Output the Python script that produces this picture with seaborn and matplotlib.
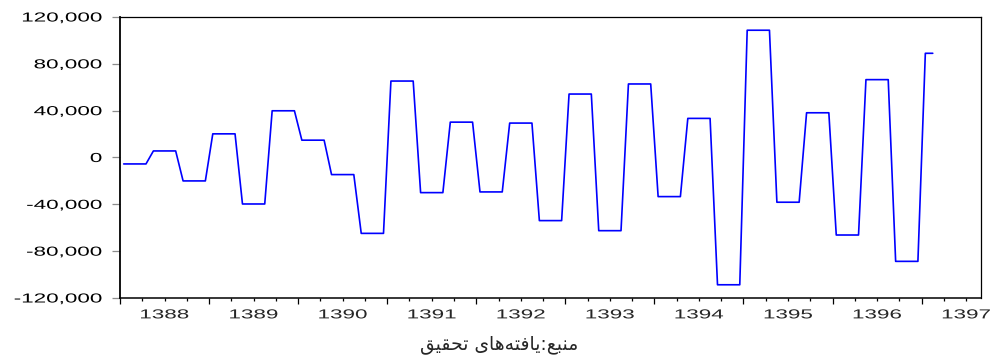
import numpy as np
import pandas as pd
import matplotlib
matplotlib.use("Agg")
import matplotlib.pyplot as plt
import seaborn as sns
from matplotlib.patheffects import AbstractPathEffect
from matplotlib.transforms import Affine2D

# Monthly series (1388M01 onward); each value is held for four months
monthly_values = [
    -5500, -5500, -5500, -5500,
    5600, 5600, 5600, 5600,
    -20000, -20000, -20000, -20000,
    20200, 20200, 20200, 20200,
    -39700, -39700, -39700, -39700,
    39900, 39900, 39900, 39900,
    14800, 14800, 14800, 14800,
    -14600, -14600, -14600, -14600,
    -64800, -64800, -64800, -64800,
    65300, 65300, 65300, 65300,
    -30000, -30000, -30000, -30000,
    30200, 30200, 30200, 30200,
    -29400, -29400, -29400, -29400,
    29400, 29400, 29400, 29400,
    -53900, -53900, -53900, -53900,
    54200, 54200, 54200, 54200,
    -62500, -62500, -62500, -62500,
    62800, 62800, 62800, 62800,
    -33400, -33400, -33400, -33400,
    33400, 33400, 33400, 33400,
    -108700, -108700, -108700, -108700,
    108700, 108700, 108700, 108700,
    -38200, -38200, -38200, -38200,
    38200, 38200, 38200, 38200,
    -66200, -66200, -66200, -66200,
    66500, 66500, 66500, 66500,
    -88700, -88700, -88700, -88700,
    89000, 89000,
]
years = [1388, 1389, 1390, 1391, 1392, 1393, 1394, 1395, 1396, 1397]
y_ticks = [-120000, -80000, -40000, 0, 40000, 80000, 120000]
source_label = "منبع:یافته‌های تحقیق"

# Minimal Persian shaping: contextual forms + right-to-left visual order
ARABIC_FORMS = {  # isolated, final, initial, medial
    "ا": ("\uFE8D", "\uFE8E", None, None),
    "ب": ("\uFE8F", "\uFE90", "\uFE91", "\uFE92"),
    "ت": ("\uFE95", "\uFE96", "\uFE97", "\uFE98"),
    "ح": ("\uFEA1", "\uFEA2", "\uFEA3", "\uFEA4"),
    "ع": ("\uFEC9", "\uFECA", "\uFECB", "\uFECC"),
    "ف": ("\uFED1", "\uFED2", "\uFED3", "\uFED4"),
    "ق": ("\uFED5", "\uFED6", "\uFED7", "\uFED8"),
    "م": ("\uFEE1", "\uFEE2", "\uFEE3", "\uFEE4"),
    "ن": ("\uFEE5", "\uFEE6", "\uFEE7", "\uFEE8"),
    "ه": ("\uFEE9", "\uFEEA", "\uFEEB", "\uFEEC"),
    "ی": ("\uFBFC", "\uFBFD", "\uFBFE", "\uFBFF"),
}


def shape_rtl(text):
    out = []
    for i, ch in enumerate(text):
        if ch not in ARABIC_FORMS:
            if ch != "\u200c":
                out.append(ch)
            continue
        forms = ARABIC_FORMS[ch]
        prev = text[i - 1] if i > 0 else None
        nxt = text[i + 1] if i + 1 < len(text) else None
        joins_prev = prev in ARABIC_FORMS and ARABIC_FORMS[prev][2] is not None
        joins_next = nxt in ARABIC_FORMS and forms[2] is not None
        if joins_prev and joins_next:
            out.append(forms[3])
        elif joins_prev:
            out.append(forms[1])
        elif joins_next:
            out.append(forms[2])
        else:
            out.append(forms[0])
    return "".join(reversed(out))


class StretchX(AbstractPathEffect):
    """Draw glyphs widened horizontally about the text's alignment edge."""

    def __init__(self, factor, anchor):
        super().__init__()
        self._factor = factor
        self._anchor = anchor

    def draw_path(self, renderer, gc, tpath, affine, rgbFace=None):
        ext = tpath.get_extents()
        if self._anchor == "right":
            cx = ext.x1
        elif self._anchor == "center":
            cx = 0.5 * (ext.x0 + ext.x1)
        else:
            cx = ext.x0
        widen = Affine2D().translate(-cx, 0).scale(self._factor, 1.0).translate(cx, 0)
        renderer.draw_path(gc, tpath, widen + affine, rgbFace)


sns.set_style("white")
plt.rcParams["font.family"] = ["Liberation Sans", "DejaVu Sans"]

df = pd.DataFrame({"value": monthly_values})
df["month"] = np.arange(len(df)) + 0.5

W, H = 993, 363
fig = plt.figure(figsize=(W / 100, H / 100), dpi=100)
ax = fig.add_axes([120 / W, (H - 298) / H, (981 - 120) / W, (298 - 17) / H])

sns.lineplot(data=df, x="month", y="value", color="#0000ff", linewidth=1.2, ax=ax)

n_months = 12 * (len(years) - 1) + 8
ax.set_xlim(0, n_months)
ax.set_ylim(y_ticks[0], y_ticks[-1])

# y axis
ax.set_yticks(y_ticks, labels=[f"{v:,}" for v in y_ticks])
ax.tick_params(axis="y", which="major", left=True, length=6, width=0.9,
               color="#8c8c8c", pad=7, labelsize=9.4, labelcolor="black")

# x axis: long ticks at year starts, short ticks every quarter, year labels mid-year
year_starts = [12 * i for i in range(len(years)) if 12 * i <= n_months]
quarter_pos = [m for m in range(3, n_months + 1, 3) if m % 12 != 0]
quarter_lab = [str(years[m // 12]) if m % 12 == 6 else "" for m in quarter_pos]
ax.set_xticks(year_starts, labels=[""] * len(year_starts))
ax.set_xticks(quarter_pos, labels=quarter_lab, minor=True)
ax.tick_params(axis="x", which="major", bottom=True, length=4, width=0.9,
               color="black", pad=2)
ax.tick_params(axis="x", which="minor", bottom=True, length=2.2, width=0.9,
               color="black", pad=6, labelsize=9.4)

for lab in ax.get_yticklabels():
    lab.set_path_effects([StretchX(1.72, "right")])
for lab in ax.get_xticklabels(minor=True):
    lab.set_path_effects([StretchX(1.72, "center")])

for side, lw in {"left": 1.3, "bottom": 1.1, "top": 0.9, "right": 0.9}.items():
    ax.spines[side].set_visible(True)
    ax.spines[side].set_color("black")
    ax.spines[side].set_linewidth(lw)

ax.set_xlabel(shape_rtl(source_label), family=["DejaVu Sans"], fontsize=13.5,
              va="center")
ax.xaxis.set_label_coords((499 - 120) / 861, -(344 - 298) / 281)
ax.set_ylabel("")

fig.savefig("out.png", dpi=100, facecolor="white")
